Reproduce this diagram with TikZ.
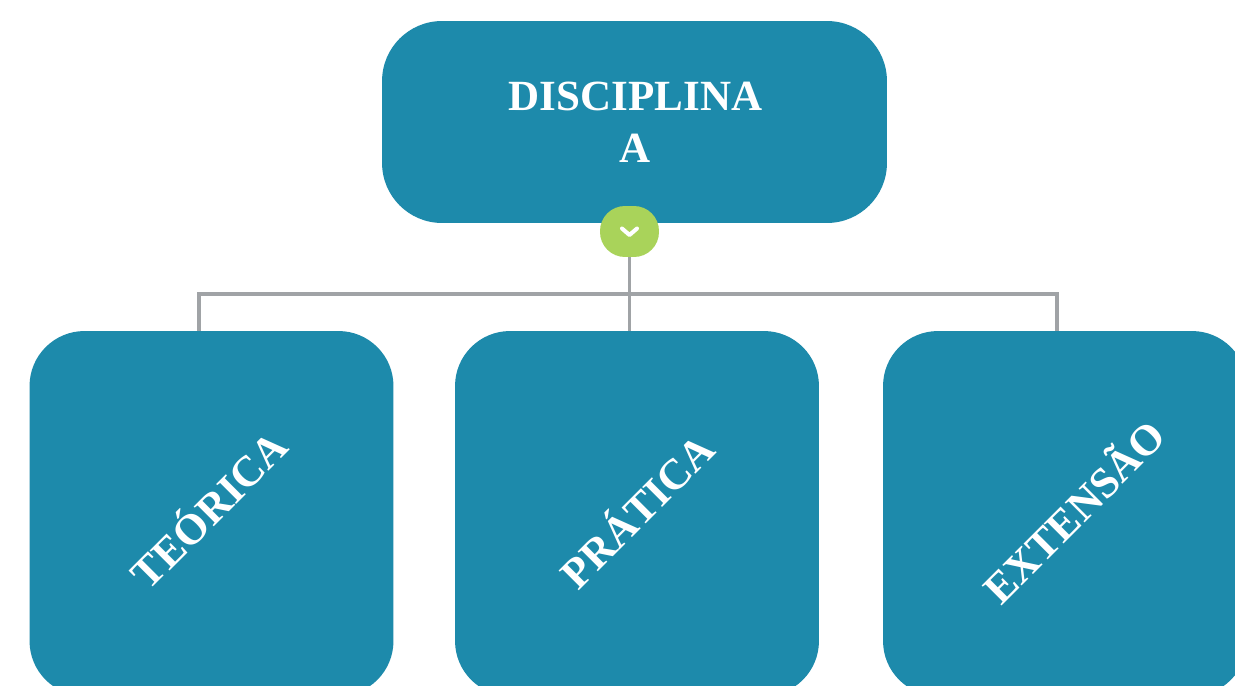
\documentclass[tikz,border=0pt]{standalone}
\usepackage{fontspec}
\setmainfont{Liberation Serif}
\usetikzlibrary{calc}
\definecolor{boxblue}{HTML}{1D8AAB}
\definecolor{togglegreen}{HTML}{A9D35A}
\definecolor{linkgray}{HTML}{A0A3A6}
\tikzset{
 rootbox/.style={fill=boxblue, rounded corners=1.2cm, minimum width=10.1cm, minimum height=4.04cm, inner sep=0},
 childbox/.style={fill=boxblue, rounded corners=1.1cm, minimum width=7.28cm, minimum height=7.3cm, inner sep=0},
 togglebox/.style={fill=togglegreen, rounded corners=.5cm, minimum width=1.18cm, minimum height=1.02cm, inner sep=0},
 boxtext/.style={text=white, font=\fontsize{24.5}{29.5}\selectfont\bfseries, align=center},
 slanttext/.style={text=white, font=\fontsize{24.5}{27}\selectfont\bfseries, rotate=45},
 linkline/.style={linkgray, line width=2pt},
}
\begin{document}
\begin{tikzpicture} [x=.02cm, y=-.02cm]
\useasboundingbox (0,0) rectangle (1235,686);
\fill[white] (0,0) rectangle (1235,686);
\node[rootbox] (disciplina) at (634.5,122) {};
\node[childbox] (teorica) at (211.5,513.5) {};
\node[childbox] (pratica) at (637,513.5) {};
\node[childbox] (extensao) at (1065,513.5) {};
\node[togglebox] (toggle) at (629.5,231.5) {};
\draw[white, line width=2.3pt, line cap=round, line join=round] ([shift={(-7.5,-3)}]toggle.center) -- ([shift={(0,3.5)}]toggle.center) -- ([shift={(7.5,-3)}]toggle.center);
\node[boxtext] (titulo) at (635.5,122) {DISCIPLINA\\A};
\node[slanttext] (lbteorica) at (207,508) {TEÓRICA};
\node[slanttext] (lbpratica) at (635,509) {PRÁTICA};
\node[slanttext] (lbextensao) at (1072,510) {EXTENSÃO};
\coordinate (busleft) at (199,294);
\coordinate (busright) at (1057,294);
\draw[linkline] (toggle.south) -- (pratica.north -| toggle.south);
\draw[linkline] (teorica.north -| busleft) -- (busleft) -- (busright) -- (extensao.north -| busright);
\end{tikzpicture}
\end{document}
